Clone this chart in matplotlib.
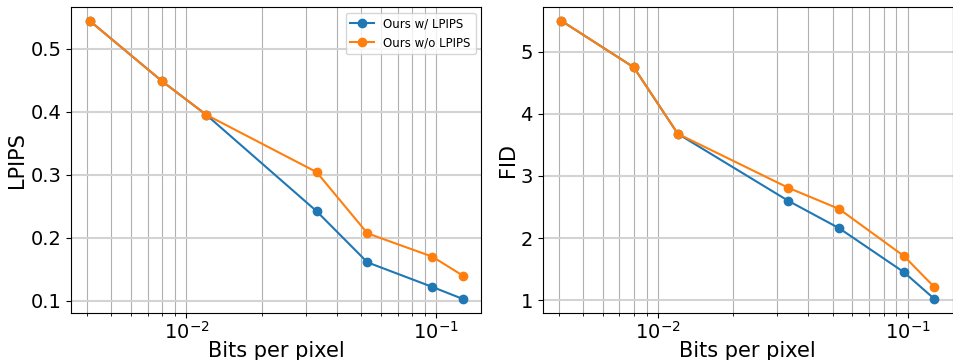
import numpy as np
import matplotlib
matplotlib.use('Agg')
import matplotlib.pyplot as plt

# bits per pixel for each rate point
bpp = [0.0041, 0.0080, 0.0120, 0.0332, 0.0530, 0.0964, 0.1276]

lpips_with = [0.544, 0.448, 0.395, 0.242, 0.161, 0.122, 0.103]
lpips_without = [0.544, 0.448, 0.395, 0.304, 0.207, 0.170, 0.140]

fid_with = [5.50, 4.75, 3.68, 2.60, 2.16, 1.45, 1.02]
fid_without = [5.50, 4.75, 3.68, 2.81, 2.47, 1.71, 1.21]

labels = ['Ours w/ LPIPS', 'Ours w/o LPIPS']


def style_axis(ax, ylabel):
    ax.set_xscale('log')
    ax.set_xlabel('Bits per pixel', fontsize=15, labelpad=-1)
    ax.set_ylabel(ylabel, fontsize=15, labelpad=2)
    ax.tick_params(axis='both', which='major', labelsize=14)
    ax.tick_params(axis='x', which='major', pad=2)
    ax.grid(axis='x', which='both', color='#b0b0b0', linewidth=0.8)
    ax.grid(axis='y', which='major', color='#d3d3d3', linewidth=1.5)
    ax.set_axisbelow(True)


fig, (ax1, ax2) = plt.subplots(1, 2, figsize=(9.54, 3.6), dpi=100)

ax1.plot(bpp, lpips_with, marker='o', label=labels[0])
ax1.plot(bpp, lpips_without, marker='o', label=labels[1])
style_axis(ax1, 'LPIPS')
ax1.legend(fontsize=8.5)

ax2.plot(bpp, fid_with, marker='o', label=labels[0])
ax2.plot(bpp, fid_without, marker='o', label=labels[1])
style_axis(ax2, 'FID')

plt.subplots_adjust(left=0.0744, right=0.999, top=0.981, bottom=0.131, wspace=0.149)
plt.savefig('out.png', dpi=100)
